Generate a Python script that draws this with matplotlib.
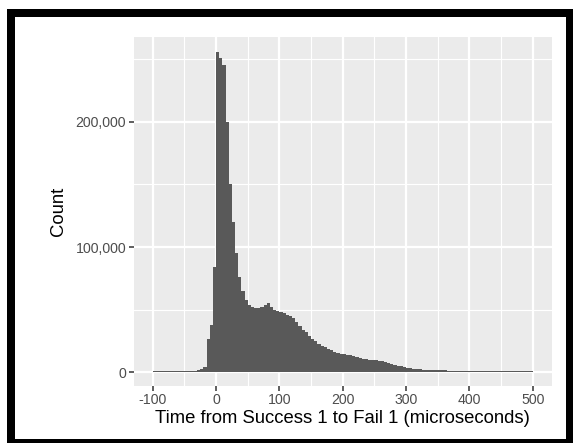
import numpy as np
import matplotlib
matplotlib.use("Agg")
import matplotlib.pyplot as plt
from matplotlib.patches import Rectangle
from matplotlib.ticker import FuncFormatter, MultipleLocator

# ---- data: histogram of time from Success 1 to Fail 1 (5-microsecond bins) ----
bin_start = -100
bin_width = 5
counts_k = [
    # -100 .. -50
    1.0, 1.0, 1.0, 1.0, 1.0, 1.0, 1.0, 1.0, 1.0, 1.0, 1.0,
    # -45 .. -5
    1.1, 1.2, 1.4, 1.7, 2.4, 4.5, 27, 38, 84,
    # 0 .. 45
    256, 251, 245, 200, 150, 120, 95, 76, 65, 58,
    # 50 .. 95
    54, 52, 51, 51, 52, 54, 55, 52, 50, 49,
    # 100 .. 145
    48, 47, 46, 45, 43, 40, 37, 34, 32, 29,
    # 150 .. 195
    27, 25, 23, 21, 20, 18.5, 17.5, 16.5, 15.5, 15,
    # 200 .. 245
    14.5, 14, 13.5, 13, 12, 11.5, 11, 10.5, 10, 9.8,
    # 250 .. 295
    9.5, 9.2, 8.8, 8.2, 7.5, 6.8, 6.0, 5.4, 4.8, 4.1,
    # 300 .. 345
    3.6, 3.2, 2.9, 2.6, 2.4, 2.2, 2.0, 1.9, 1.8, 1.7,
    # 350 .. 395
    1.6, 1.55, 1.5, 1.45, 1.4, 1.35, 1.3, 1.25, 1.2, 1.2,
    # 400 .. 495
    1.15, 1.15, 1.1, 1.1, 1.1, 1.05, 1.05, 1.0, 1.0, 1.0,
    1.0, 1.0, 1.0, 1.0, 1.0, 1.0, 1.0, 1.0, 1.0, 1.0,
]
x_ticks = [-100, 0, 100, 200, 300, 400, 500]
y_ticks = [0, 100000, 200000]
x_label = "Time from Success 1 to Fail 1 (microseconds)"
y_label = "Count"

counts = np.array(counts_k) * 1000
edges = bin_start + bin_width * np.arange(len(counts) + 1)

plt.rcParams["font.family"] = ["Liberation Sans", "DejaVu Sans"]

W, H = 573, 443
fig = plt.figure(figsize=(W / 100, H / 100), dpi=100)
fig.patch.set_facecolor("white")

# panel position in pixels
L, R, T, B = 133.7, 551.7, 37.1, 385.5
ax = fig.add_axes([L / W, 1 - B / H, (R - L) / W, (B - T) / H])
ax.set_facecolor("#EBEBEB")

ax.stairs(counts, edges, fill=True, color="#595959", linewidth=0, zorder=3)

ax.set_xlim(-130, 530)
ax.set_ylim(-10500, 267500)
ax.set_xticks(x_ticks)
ax.set_yticks(y_ticks)
ax.xaxis.set_minor_locator(MultipleLocator(50))
ax.yaxis.set_minor_locator(MultipleLocator(50000))
ax.yaxis.set_major_formatter(FuncFormatter(lambda v, p: f"{int(v):,}"))
ax.xaxis.set_major_formatter(FuncFormatter(lambda v, p: f"{int(v)}"))

ax.grid(which="major", color="white", linewidth=1.6, zorder=1)
ax.grid(which="minor", color="white", linewidth=0.8, zorder=1)
ax.set_axisbelow(True)
for s in ax.spines.values():
    s.set_visible(False)

ax.tick_params(which="major", length=3.5, width=1.1, color="#333333",
               labelcolor="#4D4D4D", labelsize=10.2, pad=2)
ax.tick_params(which="minor", length=0)

ax.set_xlabel(x_label, fontsize=13.3, color="black", labelpad=2)
ax.set_ylabel(y_label, fontsize=13.3, color="black", labelpad=6)

# black frame around the image
def frect(x0, y0, x1, y1):
    fig.add_artist(Rectangle((x0 / W, 1 - y1 / H), (x1 - x0) / W, (y1 - y0) / H,
                             transform=fig.transFigure, facecolor="black",
                             edgecolor="none", zorder=10))

frect(7, 9, 573, 16.5)     # top
frect(7, 9, 15, 443)       # left
frect(566, 9, 573, 443)    # right
frect(7, 438.5, 573, 443)  # bottom

fig.savefig("out.png", dpi=100)
